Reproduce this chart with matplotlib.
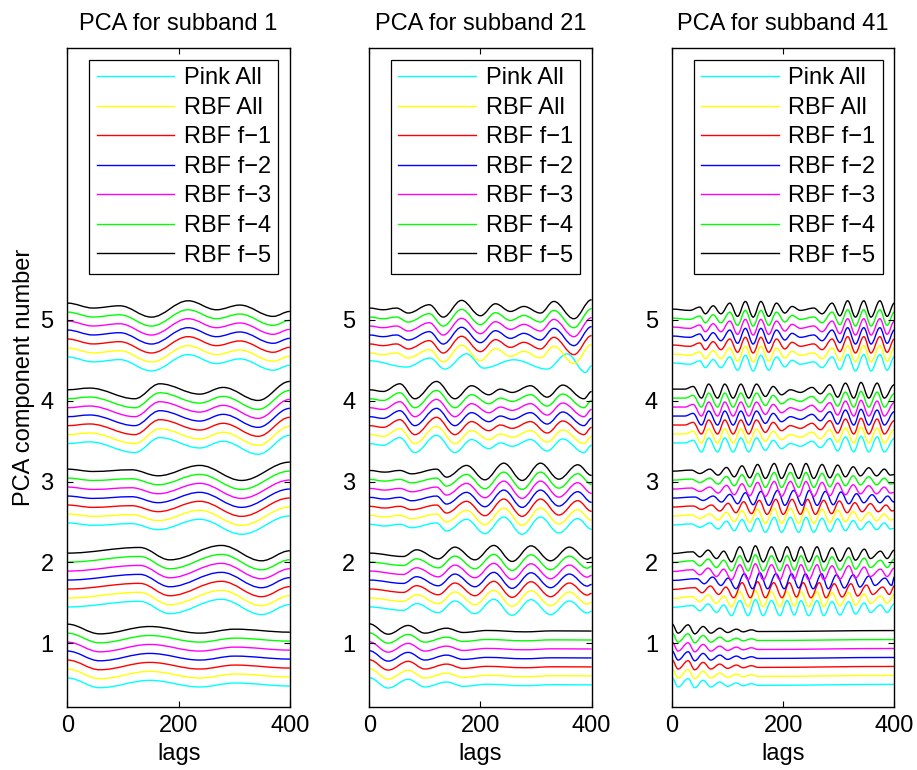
import matplotlib
matplotlib.use("Agg")
import matplotlib.pyplot as plt
from matplotlib.path import Path
from matplotlib.patches import PathPatch
from matplotlib.lines import Line2D

plt.rcParams["font.family"] = ["Liberation Sans", "DejaVu Sans"]

# legend entries, bottom curve of each group first in the legend
labels = ["Pink All", "RBF All", "RBF f\u22121", "RBF f\u22122", "RBF f\u22123", "RBF f\u22124", "RBF f\u22125"]
colors = ["#00ffff", "#ffff00", "#ff0000", "#0000ff", "#ff00ff", "#00ff00", "#000000"]
# vertical offset of each curve relative to the RBF f-5 (top) curve of a group
offsets = [-0.666, -0.555, -0.444, -0.333, -0.222, -0.111, 0.0]

subbands = [1, 21, 41]

# turning points (lag, value) of the top curve in each component group
# ---- subband 1
sb1_c5_lag = [0, 46, 94, 151, 217, 268, 310, 370, 400]
sb1_c5_val = [5.207, 5.146, 5.174, 5.034, 5.236, 5.125, 5.183, 5.043, 5.104]
sb1_c4_lag = [0, 40, 121, 166, 238, 280, 343, 400]
sb1_c4_val = [4.135, 4.156, 4.024, 4.209, 4.081, 4.164, 4.003, 4.238]
sb1_c3_lag = [0, 46, 115, 163, 238, 313, 400]
sb1_c3_val = [3.153, 3.124, 3.145, 3.071, 3.199, 3.013, 3.240]
sb1_c2_lag = [0, 130, 184, 277, 349, 400]
sb1_c2_val = [2.114, 2.184, 2.031, 2.209, 2.019, 2.143]
sb1_c1_lag = [0, 58, 148, 238, 301, 400]
sb1_c1_val = [1.235, 1.115, 1.206, 1.124, 1.173, 1.136]

# ---- subband 21
sb21_c5_lag = [0, 25, 49, 70, 108, 133, 166, 200, 227, 254, 278, 308, 332, 368, 400]
sb21_c5_val = [5.146, 5.125, 5.146, 5.084, 5.187, 5.034, 5.241, 5.051, 5.199, 5.104,
               5.166, 5.084, 5.228, 5.014, 5.249]
sb21_c4_lag = [0, 25, 55, 82, 121, 154, 184, 215, 236, 257, 290, 320, 348, 386, 400]
sb21_c4_val = [4.135, 4.114, 4.209, 4.024, 4.238, 4.024, 4.185, 4.073, 4.143, 4.102,
               4.185, 4.044, 4.193, 4.024, 4.114]
sb21_c3_lag = [0, 28, 55, 76, 121, 139, 175, 208, 242, 275, 308, 341, 375, 400]
sb21_c3_val = [3.137, 3.116, 3.137, 3.095, 3.153, 3.054, 3.199, 3.021, 3.227, 3.013,
               3.227, 3.029, 3.207, 3.075]
sb21_c2_lag = [0, 61, 85, 124, 154, 190, 224, 257, 291, 326, 360, 392, 400]
sb21_c2_val = [2.114, 2.072, 2.155, 2.043, 2.188, 2.031, 2.209, 2.011, 2.204, 2.019,
               2.188, 2.039, 2.060]
sb21_c1_lag = [0, 34, 70, 100, 139, 169, 212, 280, 330, 400]
sb21_c1_val = [1.239, 1.111, 1.219, 1.124, 1.185, 1.132, 1.157, 1.140, 1.152, 1.150]
# Pink All departs from the others in component 5
sb21_c5_pink_lag = [0, 67, 109, 136, 175, 206, 260, 320, 356, 389, 400]
sb21_c5_pink_val = [4.494, 4.416, 4.527, 4.391, 4.580, 4.403, 4.506, 4.391, 4.580, 4.350, 4.432]

# ---- subband 41
sb41_c5_lag = [0, 32, 50, 60, 74, 88, 104, 118, 132, 146, 160, 174, 188, 203, 216, 231,
               255, 270, 288, 302, 316, 330, 345, 358, 374, 387, 400]
sb41_c5_val = [5.133, 5.117, 5.158, 5.075, 5.174, 5.075, 5.207, 5.043, 5.228, 5.034,
               5.228, 5.043, 5.207, 5.084, 5.166, 5.117, 5.146, 5.075, 5.207, 5.051,
               5.236, 5.034, 5.236, 5.034, 5.236, 5.043, 5.207]
sb41_c4_lag = [0, 23, 38, 53, 66, 82, 95, 110, 124, 138, 152, 168, 182, 197, 213, 231,
               252, 267, 284, 298, 312, 327, 340, 354, 369, 382, 400]
sb41_c4_val = [4.143, 4.143, 4.176, 4.032, 4.205, 4.032, 4.205, 4.032, 4.205, 4.032,
               4.205, 4.052, 4.176, 4.073, 4.135, 4.102, 4.164, 4.085, 4.197, 4.044,
               4.217, 4.032, 4.226, 4.032, 4.217, 4.032, 4.197]
sb41_c3_lag = [0, 35, 50, 68, 83, 98, 112, 126, 140, 154, 168, 184, 197, 213, 228, 241,
               255, 270, 284, 298, 312, 326, 339, 354, 368, 382, 393, 400]
sb41_c3_val = [3.128, 3.141, 3.099, 3.153, 3.079, 3.174, 3.058, 3.194, 3.046, 3.211,
               3.038, 3.223, 3.038, 3.223, 3.038, 3.223, 3.038, 3.211, 3.046, 3.203,
               3.058, 3.182, 3.070, 3.170, 3.070, 3.153, 3.079, 3.087]
sb41_c2_lag = [0, 37, 50, 65, 80, 93, 107, 122, 137, 150, 164, 179, 194, 207, 220, 232,
               246, 261, 273, 288, 302, 318, 330, 346, 357, 375, 387, 400]
sb41_c2_val = [2.109, 2.130, 2.068, 2.151, 2.047, 2.138, 2.006, 2.192, 2.006, 2.204,
               2.006, 2.192, 2.006, 2.192, 2.015, 2.192, 2.006, 2.192, 2.006, 2.179,
               2.015, 2.179, 2.027, 2.163, 2.047, 2.138, 2.047, 2.151]
sb41_c1_lag = [0, 11, 29, 41, 56, 70, 86, 100, 116, 128, 143, 155, 400]
sb41_c1_val = [1.239, 1.124, 1.227, 1.115, 1.206, 1.124, 1.185, 1.132, 1.173, 1.140,
               1.165, 1.144, 1.156]
# lag shift of each curve (Pink .. f-5) in components 2 and 3, where the curves cross
sb41_c3_shift = [0, 0, 3, 6, 0, 0, 0]
sb41_c2_shift = [0, 0, 4, 8, 0, 0, 0]

groups = {
    1: [(sb1_c1_lag, sb1_c1_val), (sb1_c2_lag, sb1_c2_val), (sb1_c3_lag, sb1_c3_val),
        (sb1_c4_lag, sb1_c4_val), (sb1_c5_lag, sb1_c5_val)],
    21: [(sb21_c1_lag, sb21_c1_val), (sb21_c2_lag, sb21_c2_val), (sb21_c3_lag, sb21_c3_val),
         (sb21_c4_lag, sb21_c4_val), (sb21_c5_lag, sb21_c5_val)],
    41: [(sb41_c1_lag, sb41_c1_val), (sb41_c2_lag, sb41_c2_val), (sb41_c3_lag, sb41_c3_val),
         (sb41_c4_lag, sb41_c4_val), (sb41_c5_lag, sb41_c5_val)],
}
shifts = {(41, 2): sb41_c2_shift, (41, 3): sb41_c3_shift}
special = {(21, 5, 0): (sb21_c5_pink_lag, sb21_c5_pink_val)}

K = 0.364  # bezier handle so a half wave between turning points looks like a sine


def wave_path(lags, vals):
    verts = [(lags[0], vals[0])]
    codes = [Path.MOVETO]
    for i in range(1, len(lags)):
        x0, y0, x1, y1 = lags[i - 1], vals[i - 1], lags[i], vals[i]
        dx = x1 - x0
        verts += [(x0 + K * dx, y0), (x1 - K * dx, y1), (x1, y1)]
        codes += [Path.CURVE4] * 3
    return Path(verts, codes)


FS = 17
fig = plt.figure(figsize=(9.17, 7.7), dpi=100)
lefts = [0.0736, 0.4027, 0.7328]

for n, sb in enumerate(subbands):
    ax = fig.add_axes([lefts[n], 0.0818, 0.2425, 0.8555])
    for comp, (lags, vals) in enumerate(groups[sb], start=1):
        sh = shifts.get((sb, comp), [0] * 7)
        for j in range(7):
            if (sb, comp, j) in special:
                lx, ly = special[(sb, comp, j)]
            else:
                lx = [lags[0]] + [v + sh[j] for v in lags[1:-1]] + [lags[-1]]
                ly = [v + offsets[j] for v in vals]
            ax.add_patch(PathPatch(wave_path(lx, ly), facecolor="none",
                                   edgecolor=colors[j], lw=1.0))
    ax.set_xlim(0, 400)
    ax.set_ylim(0.21, 8.36)
    ax.set_xticks([0, 200, 400])
    ax.set_yticks([1, 2, 3, 4, 5])
    ax.tick_params(direction="in", top=True, right=True, length=4, width=0.8,
                   labelsize=FS)
    ax.tick_params(axis="x", pad=6)
    ax.tick_params(axis="y", pad=10)
    for s in ax.spines.values():
        s.set_linewidth(1.0)
    ax.set_title(f"PCA for subband {sb}", fontsize=FS, pad=13)
    ax.set_xlabel("lags", fontsize=FS, labelpad=4)
    if n == 0:
        ax.set_ylabel("PCA component number", fontsize=FS)
    handles = [Line2D([], [], color=c, lw=1.0) for c in colors]
    leg = ax.legend(handles, labels, loc="upper right", bbox_to_anchor=(0.947, 0.982),
                    fontsize=FS, frameon=True, fancybox=False, framealpha=1,
                    edgecolor="black", borderpad=0.3, labelspacing=0.32,
                    handlelength=3.3, handletextpad=0.4, borderaxespad=0)
    leg.get_frame().set_linewidth(0.9)

fig.savefig("out.png", dpi=100)
